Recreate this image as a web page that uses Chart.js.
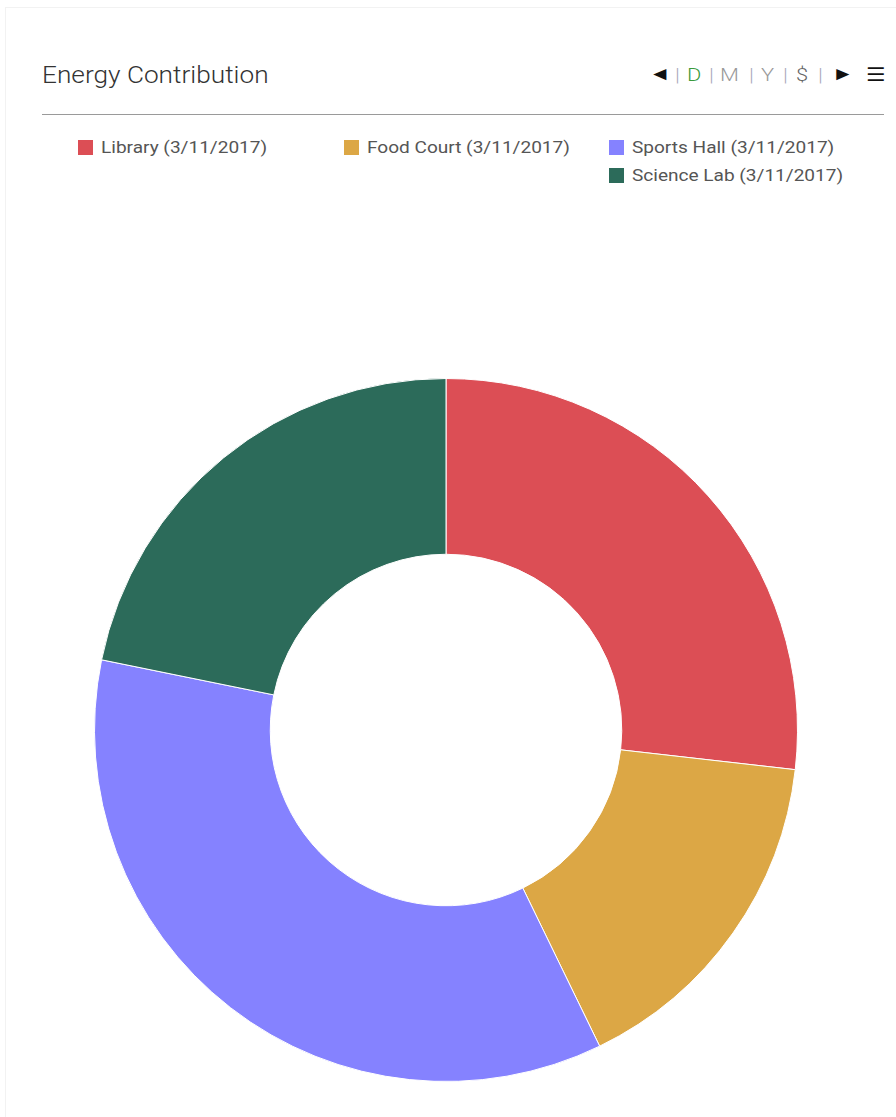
<!DOCTYPE html>
<html>
<head>
<meta charset="utf-8">
<script src="https://cdn.jsdelivr.net/npm/chart.js@4/dist/chart.umd.min.js"></script>
<style>
  body { margin: 0; background: #fff; font-family: Roboto, 'Open Sans', sans-serif; }
  #panel { position: absolute; left: 5px; top: 7px; width: 900px; height: 1200px; border: 1px solid #f2f2f2; }
  #title { position: absolute; left: 42px; top: 61px; line-height: 30px; font-size: 23px; font-weight: 300; color: #333; transform: scaleX(1.14); transform-origin: left center; white-space: nowrap; }
  #controls span { position: absolute; top: 60px; line-height: 30px; font-size: 19px; font-weight: 300; color: #999; transform: scaleX(1.15); transform-origin: left center; }
  #controls .arr { color: #111; font-size: 19px; top: 59px; }
  #controls .sep { color: #aab; }
  #controls .on { color: #3a9a3c; }
  #controls .dol { color: #666; }
  #controls .menu { color: #111; font-weight: 400; font-size: 19px; }
  #rule { position: absolute; left: 42px; top: 114px; width: 842px; height: 0; border-top: 1px solid #9a9a9a; }
  #legend { position: absolute; left: 78px; top: 137px; width: 800px; }
  #legend .item { display: inline-block; width: 265.5px; height: 28px; line-height: 22px; font-size: 16px; color: #555; white-space: nowrap; vertical-align: top; }
  #legend .box { display: inline-block; width: 15px; height: 15px; margin-right: 8px; vertical-align: -2px; }
  #legend .txt { display: inline-block; transform: scaleX(1.19); transform-origin: left center; }
  #legend .item.wrap { margin-left: 531px; }
  #wrap { position: absolute; left: 94px; top: 378px; width: 704px; height: 704px; }
</style>
</head>
<body>
<div id="panel"></div>
<div id="title">Energy Contribution</div>
<div id="controls">
  <span class="arr" style="left:649px">◄</span>
  <span class="sep" style="left:675px">|</span>
  <span class="on" style="left:687px">D</span>
  <span class="sep" style="left:709px">|</span>
  <span style="left:720px">M</span>
  <span class="sep" style="left:749px">|</span>
  <span style="left:761px">Y</span>
  <span class="sep" style="left:783px">|</span>
  <span class="dol" style="left:796px">$</span>
  <span class="sep" style="left:818px">|</span>
  <span class="arr" style="left:832px">►</span>
  <span class="menu" style="left:866px">☰</span>
</div>
<div id="rule"></div>
<div id="legend"></div>
<div id="wrap"><canvas id="energyChart"></canvas></div>
<script>
var buildings = ['Library', 'Food Court', 'Sports Hall', 'Science Lab'];
var readingDate = '3/11/2017';
var contribution = [26.8, 16.0, 35.4, 21.8];
var sliceColors = ['#dc4e55', '#dca745', '#8582ff', '#2c6b5a'];

var labels = buildings.map(function(b) { return b + ' (' + readingDate + ')'; });

// html legend, three columns like the original dashboard
var htmlLegend = {
	id: 'htmlLegend',
	afterUpdate: function(chart) {
		var box = document.getElementById('legend');
		box.innerHTML = '';
		chart.options.plugins.legend.labels.generateLabels(chart).forEach(function(item, i) {
			var div = document.createElement('div');
			div.className = 'item' + (i === 3 ? ' wrap' : '');
			div.innerHTML = '<span class="box" style="background:' + item.fillStyle + '"></span><span class="txt">' + item.text + '</span>';
			box.appendChild(div);
		});
	}
};

const ctx = document.getElementById('energyChart').getContext('2d');
const myChart = new Chart(ctx, {
	type: 'doughnut',
	data: {
		labels: labels,
		datasets: [{
			data: contribution,
			backgroundColor: sliceColors,
			borderColor: '#ffffff',
			borderWidth: 1
		}]
	},
	options: {
		responsive: true,
		maintainAspectRatio: false,
		animation: false,
		cutout: '50%',
		layout: { padding: 0 },
		plugins: {
			legend: { display: false },
			tooltip: { enabled: false }
		}
	},
	plugins: [htmlLegend]
});
</script>
</body>
</html>
